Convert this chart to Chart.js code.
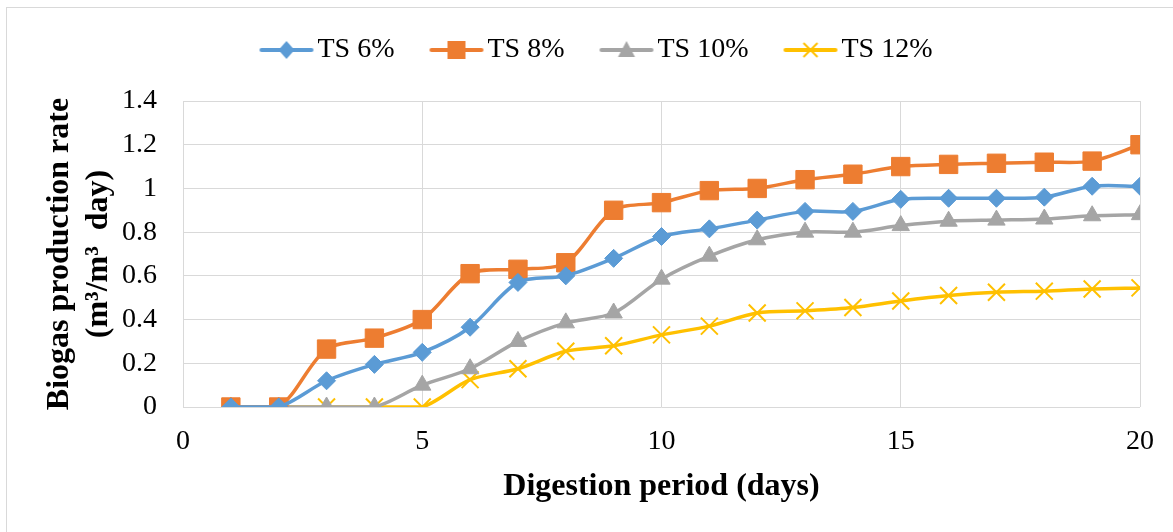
<!DOCTYPE html>
<html>
<head>
<meta charset="utf-8">
<script src="https://cdn.jsdelivr.net/npm/chart.js@4.4.1/dist/chart.umd.min.js"></script>
<style>
  body { margin: 0; background: #fff; }
  #wrap { width: 1173px; height: 532px; }
</style>
</head>
<body>
<div id="wrap"><canvas id="grafica" width="1173" height="532"></canvas></div>
<script>
// Datos: producción de biogás por día
const dias = [1, 2, 3, 4, 5, 6, 7, 8, 9, 10, 11, 12, 13, 14, 15, 16, 17, 18, 19, 20];
const ts6 = [0, 0, 0.12, 0.195, 0.25, 0.365, 0.57, 0.6, 0.68, 0.78, 0.815, 0.855, 0.895, 0.895, 0.95, 0.955, 0.955, 0.96, 1.01, 1.01];
const ts8 = [0, 0, 0.265, 0.315, 0.4, 0.61, 0.63, 0.66, 0.9, 0.935, 0.99, 1.0, 1.04, 1.065, 1.1, 1.11, 1.115, 1.12, 1.125, 1.2];
const ts10 = [0, 0, 0, 0, 0.1, 0.175, 0.3, 0.385, 0.43, 0.585, 0.69, 0.765, 0.8, 0.8, 0.83, 0.85, 0.855, 0.86, 0.875, 0.88];
const ts12 = [0, 0, 0, 0, 0, 0.125, 0.175, 0.255, 0.28, 0.33, 0.37, 0.43, 0.44, 0.455, 0.485, 0.51, 0.525, 0.53, 0.54, 0.545];

const etiquetasX = ['0', '5', '10', '15', '20'];
const etiquetasY = ['0', '0.2', '0.4', '0.6', '0.8', '1', '1.2', '1.4'];

const colores = {
    ts6: '#5B9BD5',
    ts8: '#ED7D31',
    ts10: '#A5A5A5',
    ts12: '#FFC000'
};

const fuente = "'Liberation Serif', 'Times New Roman', serif";

// Icono de leyenda: línea con el marcador en medio
function iconoLeyenda(color, estilo) {
    const c = document.createElement('canvas');
    c.width = 66;
    c.height = 24;
    const g = c.getContext('2d');
    const cx = 38, cy = 12;
    g.strokeStyle = color;
    g.fillStyle = color;
    g.lineWidth = 4;
    g.lineCap = 'round';
    g.beginPath();
    g.moveTo(13, cy);
    g.lineTo(63, cy);
    g.stroke();
    g.beginPath();
    if (estilo === 'rombo') {
        g.moveTo(cx, cy - 9); g.lineTo(cx + 8, cy); g.lineTo(cx, cy + 9); g.lineTo(cx - 8, cy);
        g.closePath(); g.fill();
    } else if (estilo === 'cuadrado') {
        g.fillRect(cx - 9, cy - 9, 18, 18);
    } else if (estilo === 'triangulo') {
        g.moveTo(cx, cy - 9); g.lineTo(cx + 8.5, cy + 7); g.lineTo(cx - 8.5, cy + 7);
        g.closePath(); g.fill();
    } else {
        g.lineWidth = 2;
        g.lineCap = 'butt';
        g.moveTo(cx - 7, cy - 7); g.lineTo(cx + 7, cy + 7);
        g.moveTo(cx + 7, cy - 7); g.lineTo(cx - 7, cy + 7);
        g.stroke();
    }
    return c;
}

const iconos = [
    iconoLeyenda(colores.ts6, 'rombo'),
    iconoLeyenda(colores.ts8, 'cuadrado'),
    iconoLeyenda(colores.ts10, 'triangulo'),
    iconoLeyenda(colores.ts12, 'cruz')
];

function serie(label, valores, color, pointStyle, radio, borde) {
    return {
        label: label,
        data: dias.map((d, i) => ({ x: d, y: valores[i] })),
        borderColor: color,
        backgroundColor: color,
        pointBackgroundColor: color,
        pointBorderColor: color,
        pointStyle: pointStyle,
        pointRadius: radio,
        pointHoverRadius: radio,
        pointBorderWidth: borde,
        borderWidth: 3.5,
        tension: 0.3
    };
}

// Marco exterior y posición de la leyenda
const marco = {
    id: 'marco',
    afterLayout(chart) {
        const ley = chart.legend;
        ley.top -= 27; ley.bottom -= 27;
        ley.left += 11; ley.right += 11;
    },
    beforeDraw(chart) {
        const ctx = chart.ctx;
        ctx.save();
        ctx.fillStyle = '#fff';
        ctx.fillRect(0, 0, chart.width, chart.height);
        ctx.strokeStyle = '#D9D9D9';
        ctx.lineWidth = 1;
        ctx.strokeRect(6.5, 7.5, 1170, 530);
        ctx.restore();
    }
};

new Chart(document.getElementById('grafica'), {
    type: 'line',
    data: {
        datasets: [
            serie('TS 6%', ts6, colores.ts6, 'rectRot', 9, 1),
            serie('TS 8%', ts8, colores.ts8, 'rect', 13, 1),
            serie('TS 10%', ts10, colores.ts10, 'triangle', 10, 1),
            serie('TS 12%', ts12, colores.ts12, 'crossRot', 12, 2)
        ]
    },
    options: {
        responsive: false,
        animation: false,
        layout: {
            padding: { left: 30, right: 33, top: 28, bottom: 15 }
        },
        plugins: {
            legend: {
                display: true,
                position: 'top',
                labels: {
                    usePointStyle: true,
                    pointStyleWidth: 44,
                    padding: 35,
                    color: '#000',
                    font: { family: fuente, size: 28 },
                    generateLabels(chart) {
                        return chart.data.datasets.map((ds, i) => ({
                            text: ds.label,
                            pointStyle: iconos[i],
                            fillStyle: ds.borderColor,
                            strokeStyle: ds.borderColor,
                            lineWidth: 0,
                            fontColor: '#000',
                            datasetIndex: i
                        }));
                    }
                }
            },
            tooltip: { enabled: false }
        },
        scales: {
            x: {
                type: 'linear',
                min: 0,
                max: 20,
                ticks: {
                    stepSize: 5,
                    padding: 18,
                    color: '#000',
                    font: { family: fuente, size: 28 },
                    callback: (v) => etiquetasX[Math.round(v / 5)]
                },
                grid: { color: '#D9D9D9', lineWidth: 1, drawTicks: false },
                border: { display: false },
                title: {
                    display: true,
                    text: 'Digestion period (days)',
                    color: '#000',
                    font: { family: fuente, size: 32, weight: 'bold' },
                    padding: { top: 0, bottom: 11 }
                },
                afterFit(scale) { scale.height = 110; }
            },
            y: {
                min: 0,
                max: 1.4,
                ticks: {
                    stepSize: 0.2,
                    padding: 26,
                    color: '#000',
                    font: { family: fuente, size: 28 },
                    callback: (v) => etiquetasY[Math.round(v / 0.2)]
                },
                grid: { color: '#D9D9D9', lineWidth: 1, drawTicks: false },
                border: { display: false },
                title: {
                    display: true,
                    text: ['Biogas production rate', '(m\u00B3/m\u00B3  day)'],
                    color: '#000',
                    font: { family: fuente, size: 32, weight: 'bold', lineHeight: 1.2 },
                    padding: { top: 11, bottom: 0 }
                },
                afterFit(scale) { scale.width = 153; }
            }
        }
    },
    plugins: [marco]
});
</script>
</body>
</html>
